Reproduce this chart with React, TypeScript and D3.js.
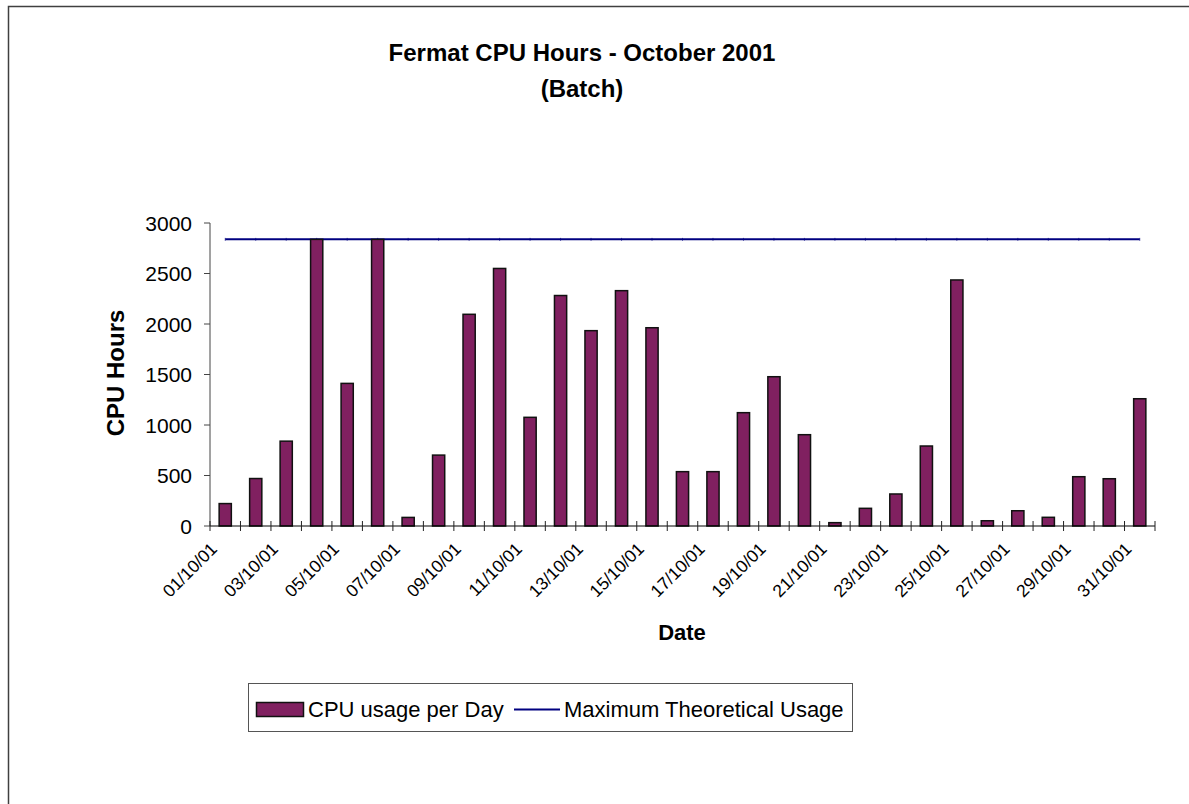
import React from "react";
import * as d3 from "d3";

const days: string[] = [
  "01/10/01","02/10/01","03/10/01","04/10/01","05/10/01","06/10/01","07/10/01","08/10/01",
  "09/10/01","10/10/01","11/10/01","12/10/01","13/10/01","14/10/01","15/10/01","16/10/01",
  "17/10/01","18/10/01","19/10/01","20/10/01","21/10/01","22/10/01","23/10/01","24/10/01",
  "25/10/01","26/10/01","27/10/01","28/10/01","29/10/01","30/10/01","31/10/01",
];
const cpuHours: number[] = [
  222, 470, 840, 2838, 1412, 2838, 85, 702, 2096, 2550, 1076,
  2282, 1934, 2330, 1963, 538, 538, 1122, 1478, 904, 33,
  175, 317, 792, 2436, 52, 151, 86, 488, 468, 1260,
];
const maxTheoretical = 2838;
const yTicks: number[] = [0, 500, 1000, 1500, 2000, 2500, 3000];
const titleLines: string[] = ["Fermat CPU Hours - October 2001", "(Batch)"];

const FONT = "Arial, 'Liberation Sans', sans-serif";
const BAR = "#802060";
const LINE = "#000080";

export default function App() {
  const left = 210, right = 1155, top = 223, bottom = 526;
  const x = d3.scaleBand<string>().domain(days).range([left, right]).padding(0);
  const y = d3.scaleLinear().domain([0, 3000]).range([bottom, top]);
  const bw = x.bandwidth();
  const barW = bw * 0.4;
  const cx = (d: string) => (x(d) as number) + bw / 2;
  const lineGen = d3.line<string>().x(cx).y(() => y(maxTheoretical));
  const boundaries = d3.range(days.length + 1).map((i) => left + i * bw);

  return (
    <svg width={1189} height={804} style={{ position: "absolute", left: 0, top: 0, background: "#fff" }} fontFamily={FONT}>
      <rect x={8.5} y={6.5} width={1300} height={900} fill="#fff" stroke="#404040" strokeWidth={1.5} />
      {/* title */}
      <text x={582} y={61} textAnchor="middle" fontSize={24} fontWeight="bold">{titleLines[0]}</text>
      <text x={582} y={97} textAnchor="middle" fontSize={24} fontWeight="bold">{titleLines[1]}</text>

      {/* max line */}
      <path d={lineGen(days) || ""} fill="none" stroke={LINE} strokeWidth={2} />
      {days.map((d) => (
        <line key={"m" + d} x1={cx(d)} x2={cx(d)} y1={y(maxTheoretical) - 1.5} y2={y(maxTheoretical) + 1.5}
          stroke={LINE} strokeWidth={1} opacity={0.6} />
      ))}

      {/* bars */}
      {days.map((d, i) => (
        <rect key={d} x={cx(d) - barW / 2} y={y(cpuHours[i])}
          width={barW} height={bottom - y(cpuHours[i])} fill={BAR} stroke="#111" strokeWidth={1.5} />
      ))}

      {/* y axis */}
      <line x1={left} x2={left} y1={top} y2={bottom} stroke="#444" strokeWidth={1} />
      {yTicks.map((t) => (
        <g key={t}>
          <line x1={left - 6} x2={left} y1={y(t)} y2={y(t)} stroke="#444" />
          <text x={left - 18} y={y(t)} dy="0.36em" textAnchor="end" fontSize={21}>{t}</text>
        </g>
      ))}
      {/* x axis */}
      <line x1={left} x2={right} y1={bottom} y2={bottom} stroke="#000" strokeWidth={1} />
      {boundaries.map((bx, i) => (
        <line key={i} x1={bx} x2={bx} y1={bottom - 5} y2={bottom + 5} stroke="#222" />
      ))}
      {days.map((d, i) => i % 2 === 0 ? (
        <text key={d} transform={`translate(${cx(d) - 7},${bottom + 24}) rotate(-45)`}
          textAnchor="end" fontSize={17.5}>{d}</text>
      ) : null)}

      {/* axis titles */}
      <text transform={`translate(124,373) rotate(-90)`} textAnchor="middle" fontSize={24} fontWeight="bold">CPU Hours</text>
      <text x={682} y={640} textAnchor="middle" fontSize={22} fontWeight="bold">Date</text>

      {/* legend */}
      <rect x={248.5} y={683.5} width={604} height={48} fill="#fff" stroke="#555" strokeWidth={1} />
      <rect x={256.5} y={702.5} width={47} height={14} fill={BAR} stroke="#111" strokeWidth={1.5} />
      <text x={308} y={717} fontSize={22}>CPU usage per Day</text>
      <line x1={514} x2={560} y1={709.5} y2={709.5} stroke={LINE} strokeWidth={2} />
      <text x={564} y={717} fontSize={22}>Maximum Theoretical Usage</text>
    </svg>
  );
}
